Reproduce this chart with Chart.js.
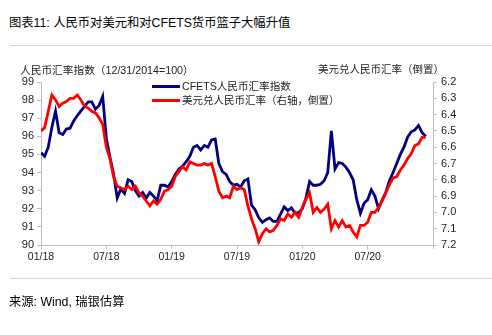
<!DOCTYPE html>
<html>
<head>
<meta charset="utf-8">
<script src="https://cdn.jsdelivr.net/npm/chart.js"></script>
<style>
  html, body { margin: 0; padding: 0; background: #fff; }
  body { width: 492px; height: 335px; position: relative; overflow: hidden;
         font-family: "Liberation Sans", "Noto Sans CJK SC", sans-serif; color: #000; }
  .txt { position: absolute; white-space: nowrap; }
  .rule { position: absolute; left: 10px; right: 0; height: 1px; background: #d4d4d4; }
  .swatch { position: absolute; width: 28px; height: 3px; }
  #chart { position: absolute; left: 0; top: 0; }
</style>
</head>
<body>
<div class="txt" style="left:9px; top:15px; font-size:12.3px; line-height:16px;">图表11: 人民币对美元和对CFETS货币篮子大幅升值</div>
<div class="rule" style="top:45px;"></div>

<canvas id="chart" width="492" height="335"></canvas>

<div class="txt" style="left:20px; top:63px; font-size:10.7px; line-height:14px; color:#222;">人民币汇率指数（12/31/2014=100）</div>
<div class="txt" style="right:48px; top:62px; font-size:10.5px; line-height:14px; color:#222;">美元兑人民币汇率（倒置）</div>

<div class="swatch" style="left:152px; top:85px; background:#000080;"></div>
<div class="txt" style="left:182px; top:79px; font-size:10.6px; line-height:14px; color:#222;">CFETS人民币汇率指数</div>
<div class="swatch" style="left:152px; top:99px; background:#ff0000;"></div>
<div class="txt" style="left:182px; top:93px; font-size:10.5px; line-height:14px; color:#222;">美元兑人民币汇率（右轴，倒置）</div>

<div class="rule" style="top:278px;"></div>
<div class="txt" style="left:9px; top:294px; font-size:12.3px; line-height:16px;">来源: Wind, 瑞银估算</div>

<script>
// one observation every ten days or so, starting 01/2018
const stepMonths = 1 / 3;

// CFETS RMB index (left axis)
const cfets = [
  95.1, 94.9, 95.4, 96.5, 97.4, 96.2, 96.1, 96.4, 96.45, 96.85,
  97.15, 97.4, 97.65, 97.9, 97.9, 97.5, 97.7, 98.2, 95.9, 94.85,
  93.9, 92.6, 93.1, 92.85, 93.6, 93.5, 93.0, 92.7, 92.9, 92.6,
  92.9, 92.7, 92.45, 93.3, 93.3, 93.2, 93.5, 93.9, 94.2, 94.35,
  94.6, 94.9, 95.4, 95.5, 95.25, 95.5, 95.4, 95.8, 95.85, 94.5,
  94.05, 93.9, 93.5, 93.3, 93.35, 93.2, 93.55, 93.65, 92.2, 91.95,
  91.5, 91.25, 91.4, 91.5, 91.3, 91.3, 91.7, 92.1, 91.9, 92.05,
  91.75, 91.8, 92.0, 92.6, 93.5, 93.3, 93.3, 93.35, 93.55, 94.0,
  96.3, 94.2, 94.55, 94.5, 94.3, 94.0, 93.6, 92.5, 91.75, 92.3,
  92.5, 93.05, 92.7, 92.0, 92.5, 92.9, 93.55, 94.0, 94.5, 95.0,
  95.4, 95.95, 96.25, 96.35, 96.6, 96.2, 96.0
];

// USD/CNY (right axis, inverted)
const usdcny = [
  6.50, 6.48, 6.38, 6.28, 6.31, 6.35, 6.33, 6.32, 6.30, 6.30,
  6.28, 6.31, 6.35, 6.36, 6.38, 6.39, 6.42, 6.46, 6.60, 6.67,
  6.78, 6.84, 6.85, 6.86, 6.84, 6.86, 6.84, 6.88, 6.90, 6.93,
  6.96, 6.93, 6.95, 6.92, 6.87, 6.86, 6.84, 6.78, 6.75, 6.72,
  6.74, 6.69, 6.70, 6.71, 6.71, 6.70, 6.71, 6.70, 6.78, 6.87,
  6.91, 6.90, 6.91, 6.84, 6.86, 6.85, 6.86, 6.96, 7.04, 7.10,
  7.18, 7.13, 7.10, 7.12, 7.11, 7.08, 7.04, 7.05, 7.01, 7.03,
  7.00, 7.03, 6.97, 6.92, 6.88, 7.00, 6.97, 7.00, 6.98, 6.95,
  7.10, 7.05, 7.09, 7.05, 7.09, 7.08, 7.12, 7.15, 7.08, 7.08,
  7.06, 7.00, 7.00, 6.97, 6.93, 6.88, 6.83, 6.79, 6.78, 6.74,
  6.71, 6.67, 6.64, 6.59, 6.58, 6.54, 6.54
];

// x-axis labels every six months
const xTickLabels = ['01/18', '07/18', '01/19', '07/19', '01/20', '07/20', ''];

const toPoints = arr => arr.map((v, i) => ({ x: i * stepMonths, y: v }));

const axisColor = '#bfbfbf';
const tickFont = { family: '"Liberation Sans", Arial, sans-serif', size: 11 };

new Chart(document.getElementById('chart'), {
  type: 'line',
  data: {
    datasets: [
      {
        label: '美元兑人民币汇率（右轴，倒置）',
        data: toPoints(usdcny),
        yAxisID: 'yRight',
        borderColor: '#ff0000',
        borderWidth: 2.8,
        pointRadius: 0,
        tension: 0,
        order: 0
      },
      {
        label: 'CFETS人民币汇率指数',
        data: toPoints(cfets),
        yAxisID: 'yLeft',
        borderColor: '#000080',
        borderWidth: 2.8,
        pointRadius: 0,
        tension: 0,
        order: 1
      }
    ]
  },
  options: {
    responsive: false,
    animation: false,
    devicePixelRatio: 1,
    layout: { padding: { left: 0, right: 0, top: 82, bottom: 0 } },
    plugins: { legend: { display: false }, tooltip: { enabled: false } },
    scales: {
      x: {
        type: 'linear',
        min: 0,
        max: 36,
        afterFit: s => { s.height = 90; },
        afterBuildTicks: s => { s.ticks = [0, 6, 12, 18, 24, 30, 36].map(v => ({ value: v })); },
        ticks: {
          autoSkip: false,
          maxRotation: 0,
          padding: 2,
          color: '#222',
          font: { family: tickFont.family, size: 10.5 },
          callback: v => xTickLabels[v / 6]
        },
        grid: { drawOnChartArea: false, drawTicks: true, tickLength: 4, color: axisColor },
        border: { color: axisColor, width: 1 }
      },
      yLeft: {
        position: 'left',
        min: 90,
        max: 99,
        afterFit: s => { s.width = 41; },
        ticks: { stepSize: 1, padding: 3, color: '#222', font: tickFont },
        grid: { drawOnChartArea: false, drawTicks: true, tickLength: 4, color: axisColor },
        border: { color: axisColor, width: 1 }
      },
      yRight: {
        position: 'right',
        min: 6.2,
        max: 7.2,
        reverse: true,
        afterFit: s => { s.width = 59; },
        ticks: { stepSize: 0.1, padding: 4, color: '#222', font: tickFont,
                 callback: v => v.toFixed(1) },
        grid: { drawOnChartArea: false, drawTicks: true, tickLength: 4, color: axisColor },
        border: { color: axisColor, width: 1 }
      }
    }
  }
});
</script>
</body>
</html>
